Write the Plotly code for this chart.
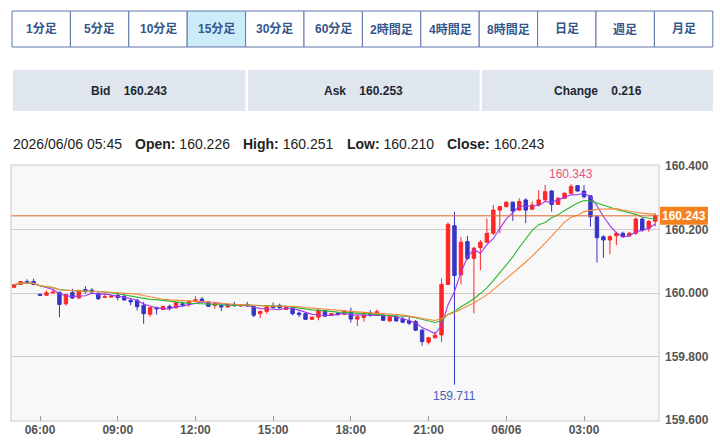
import plotly.graph_objects as go
import pandas as pd

# ---------------- data ----------------
times = pd.date_range("2026-06-05 05:00", periods=100, freq="15min")

opens = [160.018, 160.027, 160.036, 160.036, 159.996, 159.993, 160.000, 160.002, 159.966, 160.001,
         159.984, 160.011, 160.009, 159.999, 159.986, 159.987, 159.993, 159.989, 159.977, 159.977,
         159.961, 159.933, 159.954, 159.948, 159.958, 159.953, 159.966, 159.964, 159.973, 159.981,
         159.972, 159.961, 159.961, 159.956, 159.964, 159.959, 159.964, 159.957, 159.935, 159.942,
         159.958, 159.961, 159.948, 159.953, 159.937, 159.935, 159.917, 159.924, 159.945, 159.930,
         159.937, 159.933, 159.941, 159.918, 159.923, 159.937, 159.931, 159.931, 159.912, 159.925,
         159.918, 159.912, 159.910, 159.883, 159.845, 159.859, 159.868, 160.027, 160.212, 160.057,
         160.162, 160.109, 160.143, 160.160, 160.188, 160.261, 160.272, 160.286, 160.261, 160.293,
         160.264, 160.277, 160.293, 160.321, 160.279, 160.298, 160.314, 160.338, 160.321, 160.306,
         160.240, 160.177, 160.167, 160.180, 160.188, 160.180, 160.188, 160.233, 160.204, 160.226]
highs = [160.028, 160.037, 160.043, 160.045, 159.997, 160.008, 160.013, 160.004, 159.996, 160.013,
         160.010, 160.022, 160.015, 160.001, 159.998, 159.994, 160.001, 159.997, 159.982, 159.982,
         159.972, 159.955, 159.957, 159.959, 159.963, 159.971, 159.973, 159.976, 159.990, 159.987,
         159.974, 159.972, 159.966, 159.966, 159.972, 159.965, 159.972, 159.961, 159.945, 159.961,
         159.970, 159.966, 159.959, 159.956, 159.942, 159.937, 159.926, 159.950, 159.948, 159.937,
         159.940, 159.946, 159.954, 159.931, 159.933, 159.946, 159.948, 159.933, 159.928, 159.933,
         159.925, 159.925, 159.915, 159.888, 159.862, 159.878, 160.046, 160.222, 160.256, 160.177,
         160.180, 160.146, 160.167, 160.235, 160.277, 160.273, 160.288, 160.288, 160.298, 160.298,
         160.288, 160.324, 160.340, 160.324, 160.303, 160.317, 160.343, 160.340, 160.340, 160.308,
         160.245, 160.182, 160.182, 160.193, 160.193, 160.193, 160.237, 160.237, 160.230, 160.251]
lows = [160.015, 160.026, 160.029, 160.026, 159.991, 159.992, 159.999, 159.924, 159.960, 159.982,
        159.983, 159.998, 160.001, 159.978, 159.985, 159.986, 159.977, 159.976, 159.961, 159.945,
        159.903, 159.925, 159.932, 159.946, 159.945, 159.952, 159.956, 159.956, 159.972, 159.971,
        159.956, 159.950, 159.943, 159.954, 159.956, 159.957, 159.956, 159.924, 159.921, 159.935,
        159.951, 159.951, 159.947, 159.930, 159.924, 159.915, 159.916, 159.914, 159.925, 159.929,
        159.928, 159.931, 159.907, 159.896, 159.910, 159.925, 159.928, 159.912, 159.910, 159.910,
        159.905, 159.899, 159.880, 159.834, 159.838, 159.857, 159.845, 160.025, 159.711, 160.027,
        160.104, 159.936, 160.072, 160.157, 160.183, 160.188, 160.269, 160.227, 160.258, 160.220,
        160.261, 160.272, 160.290, 160.256, 160.277, 160.296, 160.311, 160.319, 160.298, 160.209,
        160.096, 160.111, 160.122, 160.151, 160.174, 160.178, 160.183, 160.193, 160.193, 160.210]
closes = [160.026, 160.036, 160.032, 160.027, 159.993, 160.001, 160.003, 159.964, 159.995, 159.984,
          160.008, 160.005, 160.003, 159.982, 159.988, 159.990, 159.986, 159.978, 159.972, 159.957,
          159.935, 159.954, 159.950, 159.958, 159.953, 159.970, 159.963, 159.973, 159.979, 159.973,
          159.958, 159.966, 159.956, 159.964, 159.960, 159.963, 159.959, 159.930, 159.942, 159.958,
          159.954, 159.953, 159.956, 159.935, 159.932, 159.917, 159.924, 159.945, 159.927, 159.935,
          159.932, 159.943, 159.918, 159.925, 159.931, 159.931, 159.941, 159.914, 159.925, 159.912,
          159.908, 159.905, 159.883, 159.847, 159.859, 159.867, 160.027, 160.216, 160.055, 160.160,
          160.109, 160.141, 160.160, 160.188, 160.261, 160.272, 160.286, 160.258, 160.288, 160.261,
          160.277, 160.293, 160.319, 160.279, 160.298, 160.314, 160.335, 160.321, 160.303, 160.240,
          160.174, 160.167, 160.177, 160.188, 160.177, 160.188, 160.233, 160.198, 160.225, 160.243]

ma_periods = [5, 15, 20]
ma_colors = ["#a035ee", "#2fb52f", "#f58a3c"]

tick_times = ["2026-06-05 06:00", "2026-06-05 09:00", "2026-06-05 12:00", "2026-06-05 15:00",
              "2026-06-05 18:00", "2026-06-05 21:00", "2026-06-06 00:00", "2026-06-06 03:00"]
tick_labels = ["06:00", "09:00", "12:00", "15:00", "18:00", "21:00", "06/06", "03:00"]
y_ticks = [159.6, 159.8, 160.0, 160.2, 160.4]

buttons = ["1分足", "5分足", "10分足", "15分足", "30分足", "60分足",
           "2時間足", "4時間足", "8時間足", "日足", "週足", "月足"]
active_button = "15分足"
info_labels = ["Bid", "Ask", "Change"]
info_values = ["160.243", "160.253", "0.216"]
header_date = "2026/06/06 05:45"
ohlc_names = ["Open:", "High:", "Low:", "Close:"]
ohlc_values = ["160.226", "160.251", "160.210", "160.243"]
current_price = 160.243
max_label = "160.343"
min_label = "159.711"

# ---------------- geometry ----------------
W, H = 720, 440
L, R, T, B = 11, 61, 165, 19
PW, PH = W - L - R, H - T - B


def px(x):
    return (x - L) / PW


def py(y):
    return (H - B - y) / PH


FONT = "Liberation Sans, Arial, Noto Sans CJK JP, sans-serif"

fig = go.Figure()
fig.add_trace(go.Candlestick(
    x=times, open=opens, high=highs, low=lows, close=closes,
    increasing=dict(line=dict(color="#ff2626", width=1), fillcolor="#ff2626"),
    decreasing=dict(line=dict(color="#3434c8", width=1), fillcolor="#3434c8"),
    whiskerwidth=0, showlegend=False, hoverinfo="skip",
))

cs = pd.Series(closes, index=times)
for n, c in zip(ma_periods, ma_colors):
    ma = cs.rolling(n, min_periods=1).mean()
    fig.add_trace(go.Scatter(x=times, y=ma.values, mode="lines",
                             line=dict(color=c, width=1.1), showlegend=False, hoverinfo="skip"))

shapes = []
annotations = []

# current price line
shapes.append(dict(type="line", xref="paper", yref="y", x0=0, x1=1, y0=current_price, y1=current_price,
                   line=dict(color="#e0662a", width=1), layer="above"))
shapes.append(dict(type="rect", xref="paper", yref="y", x0=px(660), x1=px(708),
                   y0=current_price - 0.0285, y1=current_price + 0.0285,
                   fillcolor="#f5821f", line=dict(width=0), layer="above"))
annotations.append(dict(xref="paper", yref="y", x=px(684), y=current_price, text=f"<b>{current_price:.3f}</b>",
                        showarrow=False, xanchor="center", yanchor="middle",
                        font=dict(family=FONT, size=12, color="white")))

# max/min labels
imax = highs.index(max(highs))
imin = lows.index(min(lows))
annotations.append(dict(x=times[imax], y=highs[imax], text=max_label, showarrow=False,
                        xanchor="center", yanchor="bottom", yshift=1,
                        font=dict(family=FONT, size=12, color="#e8557a")))
annotations.append(dict(x=times[imin], y=lows[imin], text=min_label, showarrow=False,
                        xanchor="center", yanchor="top", yshift=-2,
                        font=dict(family=FONT, size=12, color="#4a62b4")))

# period buttons
bx0, bx1, by0, by1 = 12, 712.8, 11, 47
bw = (bx1 - bx0) / len(buttons)
for k, name in enumerate(buttons):
    x0 = bx0 + k * bw
    shapes.append(dict(type="rect", xref="paper", yref="paper", x0=px(x0), x1=px(x0 + bw),
                       y0=py(by1), y1=py(by0),
                       fillcolor="#ccecfa" if name == active_button else "white",
                       line=dict(color="#5f76a8", width=1)))
    annotations.append(dict(xref="paper", yref="paper", x=px(x0 + bw / 2), y=py(29), text=f"<b>{name}</b>",
                            showarrow=False, xanchor="center", yanchor="middle",
                            font=dict(family=FONT, size=12, color="#34568b")))

# bid / ask / change boxes
boxes = [(13, 245.5), (248, 479.5), (482, 713)]
for (x0, x1), lab, val in zip(boxes, info_labels, info_values):
    shapes.append(dict(type="rect", xref="paper", yref="paper", x0=px(x0), x1=px(x1),
                       y0=py(111), y1=py(70), fillcolor="#dfe6ee", line=dict(width=0)))
    annotations.append(dict(xref="paper", yref="paper", x=px((x0 + x1) / 2), y=py(91),
                            text=f"<b>{lab}\u00a0\u00a0\u00a0\u00a0{val}</b>",
                            showarrow=False, xanchor="center", yanchor="middle",
                            font=dict(family=FONT, size=12, color="#1e2633")))

# header line
annotations.append(dict(xref="paper", yref="paper", x=px(11), y=py(144), text=header_date,
                        showarrow=False, xanchor="left", yanchor="middle",
                        font=dict(family=FONT, size=14, color="#222")))
for xpos, nm, v in zip([133, 241, 345, 445], ohlc_names, ohlc_values):
    annotations.append(dict(xref="paper", yref="paper", x=px(xpos), y=py(144), text=f"<b>{nm}</b> {v}",
                            showarrow=False, xanchor="left", yanchor="middle",
                            font=dict(family=FONT, size=14, color="#222")))

# plot border
shapes.append(dict(type="rect", xref="paper", yref="paper", x0=0, x1=1, y0=0, y1=1,
                   line=dict(color="#c8c8c8", width=1), layer="above"))

step = pd.Timedelta(minutes=15)
fig.update_layout(
    width=W, height=H, autosize=False,
    margin=dict(l=L, r=R, t=T, b=B, pad=0, autoexpand=False),
    paper_bgcolor="white", plot_bgcolor="#f8f8f8",
    showlegend=False, shapes=shapes, annotations=annotations,
    font=dict(family=FONT),
    xaxis=dict(type="date", range=[times[0] - 0.48 * step, times[-1] + 0.58 * step],
               rangeslider=dict(visible=False), showgrid=False, zeroline=False, automargin=False,
               tickmode="array", tickvals=tick_times, ticktext=tick_labels,
               ticks="inside", ticklen=5, tickcolor="#999", showline=False,
               tickfont=dict(family=FONT, size=12, color="#555", weight="bold")),
    yaxis=dict(side="right", range=[159.597, 160.403], tickmode="array", tickvals=y_ticks,
               ticktext=[f"{v:.3f}" for v in y_ticks], showgrid=True, gridcolor="#cccccc",
               gridwidth=1, zeroline=False, ticks="", showline=False, ticklabelstandoff=5,
               automargin=False,
               tickfont=dict(family=FONT, size=12, color="#555", weight="bold")),
    boxgap=0.25,
)

fig.write_html("out.html")
